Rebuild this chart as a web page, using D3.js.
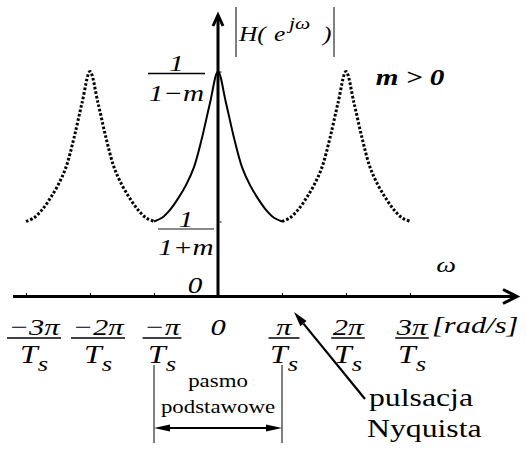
<!DOCTYPE html>
<html>
<head>
<meta charset="utf-8">
<script src="https://cdn.jsdelivr.net/npm/d3@7"></script>
<style>
  html, body { margin: 0; padding: 0; background: #fff; }
  svg { display: block; }
</style>
</head>
<body>
<svg id="chart" width="526" height="461"></svg>
<script>
const FONT = "Liberation Serif";

// Pulsation grid in units of pi/Ts, from -3pi/Ts to 3pi/Ts in steps of pi/8
const omegaPi = d3.range(49).map(i => -3 + i / 8);

// |H(e^{jw})| of the first-order recursive filter (m = 0.5)
const magnitude = [
  0.667, 0.70, 0.77, 0.87, 0.99, 1.15, 1.41, 1.72, 2.00,
  1.72, 1.41, 1.15, 0.99, 0.87, 0.77, 0.70, 0.667,
  0.70, 0.77, 0.87, 0.99, 1.15, 1.41, 1.72, 2.00,
  1.72, 1.41, 1.15, 0.99, 0.87, 0.77, 0.70, 0.667,
  0.70, 0.77, 0.87, 0.99, 1.15, 1.41, 1.72, 2.00,
  1.72, 1.41, 1.15, 0.99, 0.87, 0.77, 0.70, 0.667
];

// Horizontal axis ticks (multiples of pi/Ts) and their numerators
const tickPi = [-3, -2, -1, 0, 1, 2, 3];
const tickNumerators = ["\u22123\u03c0", "\u22122\u03c0", "\u2212\u03c0", "0", "\u03c0", "2\u03c0", "3\u03c0"];

// Vertical axis levels: 1/(1+m) and 1/(1-m)
const levelValues = [2 / 3, 2];
const levelDenominators = ["1+m", "1\u2212m"];

const svg = d3.select("#chart");
const SX = 1.27; // horizontal stretch of the lettering

const x = d3.scaleLinear().domain([-3, 3]).range([26, 410]);
const y = d3.scaleLinear().domain([0, 2]).range([296.5, 71.5]);

const pts = omegaPi.map((w, i) => ({ w, v: magnitude[i] }));
const line = d3.line().x(d => x(d.w)).y(d => y(d.v)).curve(d3.curveCatmullRom.alpha(0.5));

// aliased copies (dotted) and the baseband response (solid)
const segments = [
  { data: pts.slice(0, 17), dotted: true },
  { data: pts.slice(16, 33), dotted: false },
  { data: pts.slice(32, 49), dotted: true }
];
svg.append("g").selectAll("path").data(segments).join("path")
  .attr("d", d => line(d.data))
  .attr("fill", "none")
  .attr("stroke", "#000")
  .attr("stroke-width", d => d.dotted ? 3 : 2)
  .attr("stroke-dasharray", d => d.dotted ? "2.6,1.9" : null);

// axes
const x0 = x(0), yBase = y(0);
svg.append("line").attr("x1", 13).attr("x2", 517).attr("y1", yBase).attr("y2", yBase)
  .attr("stroke", "#000").attr("stroke-width", 3);
svg.append("path").attr("d", `M503,${yBase - 7}L517,${yBase}L503,${yBase + 7}`)
  .attr("fill", "none").attr("stroke", "#000").attr("stroke-width", 3);
svg.append("line").attr("x1", x0).attr("x2", x0).attr("y1", yBase).attr("y2", 16)
  .attr("stroke", "#000").attr("stroke-width", 3);
svg.append("path").attr("d", `M${x0 - 5},26L${x0},15L${x0 + 5},26`)
  .attr("fill", "none").attr("stroke", "#000").attr("stroke-width", 3);

const xAxis = svg.append("g").attr("transform", `translate(0,${yBase - 1.5})`)
  .call(d3.axisBottom(x).tickValues(tickPi).tickSize(-2).tickFormat(""));
xAxis.select(".domain").remove();
xAxis.selectAll(".tick line").attr("stroke", "#000").attr("stroke-width", 1);

const yAxis = svg.append("g").attr("transform", `translate(${x0 + 1.5},0)`)
  .call(d3.axisRight(y).tickValues(levelValues).tickSize(2).tickFormat(""));
yAxis.select(".domain").remove();
yAxis.selectAll(".tick line").attr("stroke", "#000").attr("stroke-width", 1);

function label(sel, px, py, s, o = {}) {
  return sel.append("text")
    .attr("transform", `translate(${px},${py}) scale(${o.sx || SX},1)`)
    .attr("text-anchor", o.anchor || "middle")
    .attr("font-family", FONT)
    .attr("font-size", o.size || 23)
    .attr("font-style", o.style || "italic")
    .attr("font-weight", o.weight || "normal")
    .attr("fill", "#000")
    .text(s);
}

// |H(e^{jw})|
svg.append("line").attr("x1", 236).attr("x2", 236).attr("y1", 7).attr("y2", 57).attr("stroke", "#000").attr("stroke-width", 1);
svg.append("line").attr("x1", 334).attr("x2", 334).attr("y1", 7).attr("y2", 57).attr("stroke", "#000").attr("stroke-width", 1);
label(svg, 239, 41, "H(", { size: 20, anchor: "start" });
label(svg, 274, 41, "e", { size: 20, anchor: "start" });
label(svg, 289, 29, "j\u03c9", { size: 17, anchor: "start" });
label(svg, 323, 41, ")", { size: 20, anchor: "start" });

// m > 0
label(svg, 410, 85, "m > 0", { weight: "bold" });
// omega
label(svg, 446, 272, "\u03c9", { size: 22 });

// vertical-axis fractions
const levelG = svg.append("g");
levelValues.forEach((v, i) => {
  const cy = y(v);
  const cx = i === 0 ? 186 : 176.5;
  const w = i === 0 ? 56 : 57;
  label(levelG, cx, cy + (i === 0 ? 5 : -0.5), "1");
  levelG.append("line").attr("x1", cx - w / 2).attr("x2", cx + w / 2)
    .attr("y1", cy + (i === 0 ? 7.5 : 2)).attr("y2", cy + (i === 0 ? 7.5 : 2))
    .attr("stroke", i === 0 ? "#8a8a8a" : "#000").attr("stroke-width", i === 0 ? 1.8 : 1.3);
  label(levelG, cx, cy + (i === 0 ? 33.5 : 29), levelDenominators[i]);
});
label(svg, 195, 293, "0");

// horizontal-axis fractions k*pi/Ts
const tickG = svg.append("g");
tickPi.forEach((t, i) => {
  const cx = x(t) + (t < 0 ? 8 : t > 0 ? 2 : 0);
  const num = label(tickG, cx, 335, tickNumerators[i], { size: 24 });
  if (t === 0) return;
  const wNum = num.node().getComputedTextLength() * SX;
  const den = tickG.append("text")
    .attr("transform", `translate(${cx},363) scale(${SX},1)`)
    .attr("text-anchor", "middle").attr("font-family", FONT)
    .attr("font-style", "italic").attr("font-size", 25);
  den.append("tspan").text("T");
  den.append("tspan").attr("font-size", 21).attr("dy", 8).text("s");
  const wDen = den.node().getComputedTextLength() * SX;
  const w = Math.max(wNum, wDen) + 3;
  tickG.append("line").attr("x1", cx - w / 2).attr("x2", cx + w / 2).attr("y1", 338).attr("y2", 338)
    .attr("stroke", "#000").attr("stroke-width", 1.5);
});
label(svg, 432, 333, "[rad/s]", { size: 24, anchor: "start" });

// baseband span
const xl = x(-1), xr = x(1), ya = 428;
[xl, xr].forEach(px => svg.append("line").attr("x1", px).attr("x2", px).attr("y1", 365).attr("y2", 443)
  .attr("stroke", "#000").attr("stroke-width", 1));
svg.append("line").attr("x1", xl + 6).attr("x2", xr - 6).attr("y1", ya).attr("y2", ya)
  .attr("stroke", "#000").attr("stroke-width", 2);
svg.append("path").attr("d", `M${xl},${ya}L${xl + 16},${ya - 3.5}L${xl + 16},${ya + 3.5}Z`).attr("fill", "#000");
svg.append("path").attr("d", `M${xr},${ya}L${xr - 16},${ya - 3.5}L${xr - 16},${ya + 3.5}Z`).attr("fill", "#000");
label(svg, (xl + xr) / 2, 387, "pasmo", { size: 18, style: "normal" });
label(svg, (xl + xr) / 2, 413, "podstawowe", { size: 18, style: "normal" });

// Nyquist pulsation pointer
const tip = [294, 312], tail = [365, 399];
const ang = Math.atan2(tail[1] - tip[1], tail[0] - tip[0]);
const hl = 15, hw = 4;
const bx = tip[0] + hl * Math.cos(ang), by = tip[1] + hl * Math.sin(ang);
svg.append("line").attr("x1", tail[0]).attr("y1", tail[1]).attr("x2", bx).attr("y2", by)
  .attr("stroke", "#000").attr("stroke-width", 2.2);
svg.append("path").attr("d",
  `M${tip[0]},${tip[1]}L${bx - hw * Math.sin(ang)},${by + hw * Math.cos(ang)}L${bx + hw * Math.sin(ang)},${by - hw * Math.cos(ang)}Z`)
  .attr("fill", "#000");
label(svg, 369, 406, "pulsacja", { size: 25, style: "normal", anchor: "start" });
label(svg, 367, 437, "Nyquista", { size: 25, style: "normal", anchor: "start" });
</script>
</body>
</html>
